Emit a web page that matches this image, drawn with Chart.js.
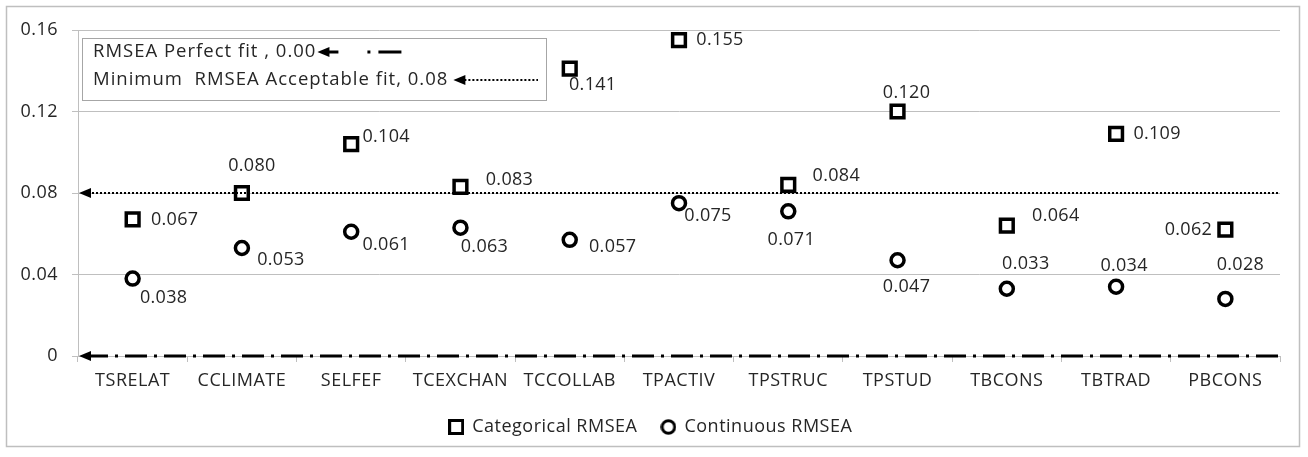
<!DOCTYPE html>
<html>
<head>
<meta charset="utf-8">
<script src="https://cdn.jsdelivr.net/npm/chart.js@4.4.1/dist/chart.umd.min.js"></script>
<style>
  html, body { margin: 0; padding: 0; background: #fff; }
  #wrap { width: 1308px; height: 457px; }
</style>
</head>
<body>
<div id="wrap"><canvas id="rmseaChart"></canvas></div>
<script>
// RMSEA by scale - categorical vs continuous estimation
const scales = ['TSRELAT', 'CCLIMATE', 'SELFEF', 'TCEXCHAN', 'TCCOLLAB', 'TPACTIV', 'TPSTRUC', 'TPSTUD', 'TBCONS', 'TBTRAD', 'PBCONS'];
const categoricalRmsea = [0.067, 0.080, 0.104, 0.083, 0.141, 0.155, 0.084, 0.120, 0.064, 0.109, 0.062];
const continuousRmsea = [0.038, 0.053, 0.061, 0.063, 0.057, 0.075, 0.071, 0.047, 0.033, 0.034, 0.028];
const yTicks = [0, 0.04, 0.08, 0.12, 0.16];
const perfectFit = 0.00;
const acceptableFit = 0.08;

const FONT = "'Open Sans', sans-serif";
const TEXT = '#262626';
const GRID = '#bfbfbf';

// label offsets from the marker (label centre), tuned by eye
const catLabelOffsets = [[42, 0], [10, -27], [35, -7], [49, -7], [23, 16], [41, 0], [48, -9], [9, -19], [49, -10], [41, 0], [-37, 0]];
const conLabelOffsets = [[31, 19], [39, 12], [35, 13], [24, 19], [43, 7], [29, 13], [3, 29], [9, 27], [19, -25], [8, -21], [15, -34]];

// small marker images for the bottom legend (same size for both)
function legendMarker(kind) {
    const c = document.createElement('canvas');
    c.width = 16; c.height = 16;
    const g = c.getContext('2d');
    g.lineWidth = 3;
    g.strokeStyle = '#000';
    g.fillStyle = '#fff';
    if (kind === 'rect') {
        g.fillRect(1.5, 1.5, 13, 13);
        g.strokeRect(1.5, 1.5, 13, 13);
    } else {
        g.beginPath();
        g.arc(8, 8, 6.3, 0, Math.PI * 2);
        g.fill();
        g.stroke();
    }
    return c;
}
const legendImgs = [legendMarker('rect'), legendMarker('circle')];

function arrowHead(ctx, x, y) {
    ctx.beginPath();
    ctx.moveTo(x, y);
    ctx.lineTo(x + 12, y - 5);
    ctx.lineTo(x + 12, y + 5);
    ctx.closePath();
    ctx.fill();
}

const spacing = {
    id: 'spacing',
    beforeDraw(chart) { chart.ctx.letterSpacing = '0.5px'; }
};

const refLines = {
    id: 'refLines',
    afterDraw(chart) {
        const ctx = chart.ctx;
        const area = chart.chartArea;
        const y = chart.scales.y;
        ctx.save();
        ctx.fillStyle = '#000';
        ctx.strokeStyle = '#000';

        // acceptable fit (dotted)
        const y8 = Math.round(y.getPixelForValue(acceptableFit));
        ctx.lineWidth = 2;
        ctx.setLineDash([2, 2]);
        ctx.beginPath();
        ctx.moveTo(area.left + 10, y8);
        ctx.lineTo(area.right, y8);
        ctx.stroke();
        ctx.setLineDash([]);
        arrowHead(ctx, area.left + 1, y8);

        // perfect fit (dash dot)
        const y0 = Math.round(y.getPixelForValue(perfectFit));
        ctx.lineWidth = 3;
        ctx.setLineDash([22, 7, 3, 7]);
        ctx.beginPath();
        ctx.moveTo(area.left + 8, y0);
        ctx.lineTo(area.right, y0);
        ctx.stroke();
        ctx.setLineDash([]);
        arrowHead(ctx, area.left + 1, y0);

        // key box top left
        const bx = area.left + 4, by = 38, bw = 464, bh = 62;
        ctx.fillStyle = '#fff';
        ctx.fillRect(bx, by, bw, bh);
        ctx.lineWidth = 1;
        ctx.strokeStyle = '#a6a6a6';
        ctx.strokeRect(bx + 0.5, by + 0.5, bw, bh);

        ctx.font = '18.5px ' + FONT;
        ctx.letterSpacing = '1px';
        ctx.fillStyle = TEXT;
        ctx.textBaseline = 'middle';
        ctx.textAlign = 'left';
        const t1 = 'RMSEA Perfect fit , 0.00';
        const t2 = 'Minimum  RMSEA Acceptable fit, 0.08';
        ctx.fillText(t1, bx + 11, 52);
        ctx.fillText(t2, bx + 11, 80);

        ctx.fillStyle = '#000';
        ctx.strokeStyle = '#000';
        let ax = bx + 11 + ctx.measureText(t1).width + 1;
        arrowHead(ctx, ax, 52);
        ctx.lineWidth = 3;
        ctx.beginPath();
        ctx.moveTo(ax + 10, 52); ctx.lineTo(ax + 21, 52);
        ctx.moveTo(ax + 50, 52); ctx.lineTo(ax + 53, 52);
        ctx.moveTo(ax + 61, 52); ctx.lineTo(ax + 84, 52);
        ctx.stroke();

        ax = bx + 11 + ctx.measureText(t2).width + 5;
        arrowHead(ctx, ax, 80);
        ctx.lineWidth = 2;
        ctx.setLineDash([2, 2]);
        ctx.beginPath();
        ctx.moveTo(ax + 11, 80); ctx.lineTo(bx + bw - 8, 80);
        ctx.stroke();
        ctx.setLineDash([]);

        // outer frame
        ctx.lineWidth = 1.5;
        ctx.strokeStyle = '#bfbfbf';
        ctx.strokeRect(6.5, 6.5, 1293, 440);
        ctx.restore();
    }
};

const pointLabels = {
    id: 'pointLabels',
    afterDatasetsDraw(chart) {
        const ctx = chart.ctx;
        ctx.save();
        ctx.font = '18px ' + FONT;
        ctx.letterSpacing = '0.3px';
        ctx.fillStyle = TEXT;
        ctx.textAlign = 'center';
        ctx.textBaseline = 'middle';
        chart.data.datasets.forEach((ds, di) => {
            const offs = di === 0 ? catLabelOffsets : conLabelOffsets;
            chart.getDatasetMeta(di).data.forEach((pt, i) => {
                ctx.fillText(ds.data[i].toFixed(3), pt.x + offs[i][0], pt.y + offs[i][1]);
            });
        });
        ctx.restore();
    }
};

const chart = new Chart(document.getElementById('rmseaChart'), {
    type: 'line',
    data: {
        labels: scales,
        datasets: [
            {
                label: 'Categorical RMSEA',
                data: categoricalRmsea,
                showLine: false,
                pointStyle: 'rect',
                pointRadius: 9,
                pointBorderWidth: 3.5,
                borderColor: '#000',
                backgroundColor: '#fff',
                pointHoverRadius: 9
            },
            {
                label: 'Continuous RMSEA',
                data: continuousRmsea,
                showLine: false,
                pointStyle: 'circle',
                pointRadius: 6.5,
                pointBorderWidth: 3.5,
                borderColor: '#000',
                backgroundColor: '#fff',
                pointHoverRadius: 6.5
            }
        ]
    },
    options: {
        responsive: true,
        maintainAspectRatio: false,
        animation: false,
        devicePixelRatio: 1,
        layout: { padding: { left: 5, right: 28, top: 30, bottom: 11 } },
        plugins: {
            tooltip: { enabled: false },
            legend: {
                position: 'bottom',
                labels: {
                    usePointStyle: true,
                    boxWidth: 14,
                    boxHeight: 14,
                    padding: 24,
                    color: TEXT,
                    font: { family: FONT, size: 18 },
                    generateLabels(ch) {
                        return ch.data.datasets.map((ds, i) => ({
                            text: ds.label,
                            pointStyle: legendImgs[i],
                            fillStyle: '#fff',
                            strokeStyle: '#000',
                            lineWidth: 0,
                            fontColor: TEXT,
                            hidden: false,
                            datasetIndex: i
                        }));
                    }
                }
            }
        },
        scales: {
            x: {
                offset: true,
                grid: { display: true, drawOnChartArea: false, offset: true, tickLength: 6, color: GRID },
                border: { color: GRID },
                ticks: { color: TEXT, font: { family: FONT, size: 18 }, padding: 8, maxRotation: 0 },
                afterFit(s) { s.height = 38; }
            },
            y: {
                min: 0,
                max: 0.16,
                afterBuildTicks(s) { s.ticks = yTicks.map(v => ({ value: v })); },
                grid: { color: GRID, tickLength: 6 },
                border: { color: GRID },
                ticks: {
                    color: TEXT,
                    font: { family: FONT, size: 18 },
                    padding: 14,
                    callback: v => v === 0 ? '0' : v.toFixed(2)
                },
                afterFit(s) { s.width = 73; }
            }
        }
    },
    plugins: [spacing, refLines, pointLabels]
});
</script>
</body>
</html>
